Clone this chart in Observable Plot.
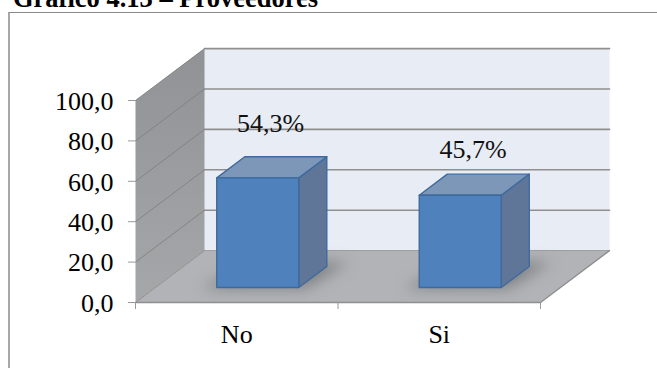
<!DOCTYPE html>
<html>
<head>
<meta charset="utf-8">
<script src="https://cdn.jsdelivr.net/npm/d3@7"></script>
<script src="https://cdn.jsdelivr.net/npm/@observablehq/plot@0.6"></script>
<style>
  html, body { margin: 0; padding: 0; background: #fff; overflow: hidden; }
  body { width: 657px; height: 368px; position: relative; font-family: "Liberation Serif", serif; }
  #title { position: absolute; left: 13px; top: -17px; font-weight: bold; font-size: 26.5px; line-height: 30px; color: #000; white-space: nowrap; }
  #box { position: absolute; left: 8px; top: 12px; width: 649px; height: 356px; box-sizing: border-box; border-left: 2px solid #a8a8a8; border-top: 1px solid #8a8a8a; }
  #chart { position: absolute; left: 0; top: 12px; }
  #chart svg { display: block; background: transparent; }
</style>
</head>
<body>
<div id="title">Gráfico 4.13 – Proveedores</div>
<div id="box"></div>
<div id="chart"></div>
<script>
// Survey answers, percentage per category
const categories = ["No", "Si"];
const shares = [54.3, 45.7];
const valueTicks = [0, 20, 40, 60, 80, 100];

// Oblique box: how far one unit of depth shifts along each scale
const depthX = 0.341;
const depthY = 25.7;
const barFront = 0.288, barBack = 0.694;
const barStart = 0.303, barWidth = 0.405;
const labelDepth = 0.49;
const labelLift = [21.5, 17.5];

const esLocale = d3.formatLocale({decimal: ",", thousands: ".", grouping: [3], currency: ["", "€"]});
const oneDecimal = esLocale.format(".1f");

// Projects (category position, depth, value) onto the plot's x and y scales
const pt = (c, d, v) => ({x: c + d * depthX, y: v + d * depthY});

const poly = (points, fill, extra = {}) =>
  Plot.line(points, {x: "x", y: "y", curve: "linear-closed", fill, stroke: "none", ...extra});
const edge = (points, stroke, strokeWidth) =>
  Plot.line(points, {x: "x", y: "y", stroke, strokeWidth});

const walls = [
  poly([pt(0, 1, 0), pt(2, 1, 0), pt(2, 1, 100), pt(0, 1, 100)], "#e8ecf5"),
  poly([pt(0, 0, 0), pt(0, 1, 0), pt(0, 1, 100), pt(0, 0, 100)], "url(#sideWall)"),
  poly([pt(0, 0, 0), pt(2, 0, 0), pt(2, 1, 0), pt(0, 1, 0)], "#b1b3b6")
];

const gridLines = valueTicks.slice(1).flatMap(v => [
  edge([pt(0, 1, v), pt(2, 1, v)], "#8f8f8f", 1.6),
  edge([pt(0, 0, v), pt(0, 1, v)], "#808080", 0.9)
]);

const floorEdges = [
  edge([pt(0, 1, 0), pt(2, 1, 0)], "#9c9c9c", 1),
  edge([pt(0, 0, 0), pt(0, 1, 0)], "#8f8f8f", 1),
  edge([pt(2, 0, 0), pt(2, 1, 0)], "#8f8f8f", 1.4),
  edge([pt(0, 0, 0), pt(2, 0, 0)], "#8f8f8f", 1.6)
];

const shadows = categories.map((_, i) => {
  const a = i + barStart - 0.07, b = i + barStart + barWidth + 0.04;
  return poly(
    [pt(a, barFront - 0.02, 0), pt(b, barFront - 0.02, 0), pt(b + 0.04, barBack + 0.08, 0), pt(a + 0.1, barBack + 0.08, 0)],
    "#808285",
    {imageFilter: "blur(7px)"}
  );
});

const bars = categories.flatMap((_, i) => {
  const a = i + barStart, b = a + barWidth, v = shares[i];
  const line = {stroke: "#3f6a9c", strokeWidth: 1.4, strokeLinejoin: "round"};
  return [
    poly([pt(b, barFront, 0), pt(b, barBack, 0), pt(b, barBack, v), pt(b, barFront, v)], "#607698", line),
    poly([pt(a, barFront, v), pt(b, barFront, v), pt(b, barBack, v), pt(a, barBack, v)], "#7c97b8", line),
    poly([pt(a, barFront, 0), pt(b, barFront, 0), pt(b, barFront, v), pt(a, barFront, v)], "#4f81bd", line)
  ];
});

const valueLabels = Plot.text(categories.map((_, i) => ({
  ...pt(i + 0.5, labelDepth, shares[i] + labelLift[i]),
  text: oneDecimal(shares[i]) + "%"
})), {x: "x", y: "y", text: "text", fill: "#111", fontSize: 26, lineAnchor: "middle"});

const chart = Plot.plot({
  width: 657,
  height: 356,
  marginLeft: 135,
  marginRight: 117,
  marginTop: 88,
  marginBottom: 66,
  x: {domain: [0, 2], axis: null},
  y: {domain: [0, 100], axis: null},
  style: {fontFamily: "Liberation Serif", background: "transparent", overflow: "visible"},
  marks: [
    ...walls,
    ...gridLines,
    ...floorEdges,
    ...shadows,
    ...bars,
    valueLabels,
    // Tick marks and their labels sit apart so the numbers can drop a pixel
    Plot.axisY(valueTicks, {
      anchor: "left", tickSize: 7, label: null, tickFormat: () => "", stroke: "#999"
    }),
    Plot.axisY(valueTicks, {
      anchor: "left", tickSize: 0, tickPadding: 22, label: null, dy: 1,
      tickFormat: oneDecimal, fill: "#000", fontSize: 26
    }),
    Plot.axisX([0, 1, 2], {
      anchor: "bottom", tickSize: 7, label: null, tickFormat: () => "", stroke: "#999"
    }),
    Plot.text(categories, {
      x: (_, i) => i + 0.5, frameAnchor: "bottom", dy: 32, text: d => d,
      fill: "#000", fontSize: 26, lineAnchor: "middle"
    })
  ]
});

// The side wall darkens slightly toward the top
d3.select(chart).append("defs").html(
  '<linearGradient id="sideWall" x1="0" y1="0" x2="0" y2="1">' +
  '<stop offset="0" stop-color="#919295"/><stop offset="1" stop-color="#a6a7a9"/></linearGradient>'
);

document.getElementById("chart").append(chart);
</script>
</body>
</html>
